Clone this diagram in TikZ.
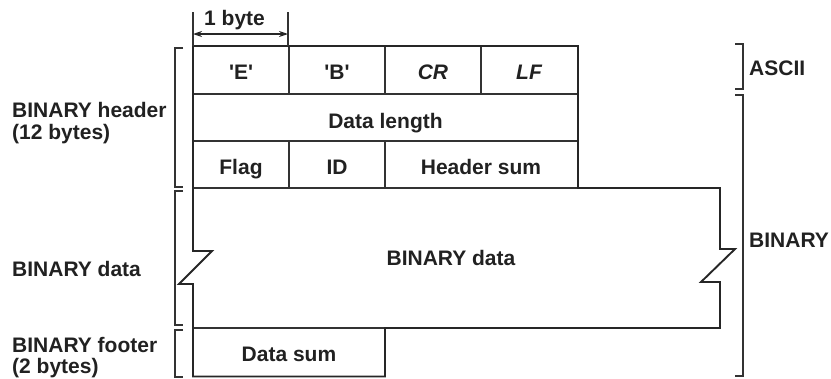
\documentclass[tikz,border=0pt]{standalone}
\usepackage{fontspec}
\setmainfont{Liberation Sans}[Ligatures=TeXOff]
\usetikzlibrary{arrows.meta}
\begin{document}
\begin{tikzpicture}[x=1pt,y=-1pt,
  txt/.style={font=\fontsize{21}{22}\selectfont\bfseries, text=black!87, inner sep=0pt, anchor=base},
  ltxt/.style={txt, anchor=base west},
  outer/.style={draw=black!85, line width=1.9pt, line join=miter},
  inner/.style={draw=black!80, line width=1.2pt},
  brk/.style={draw=black!80, line width=1.2pt},
  dim/.style={draw=black!85, line width=1.2pt, {Stealth[length=9pt,width=6pt]}-{Stealth[length=9pt,width=6pt]}}]
\useasboundingbox (0,0) rectangle (831,378);
% internal dividers
\draw[inner] (193,94) -- (578,94);
\draw[inner] (193,141) -- (578,141);
\draw[inner] (193,188) -- (578,188);
\draw[inner] (193,328) -- (385,328);
\draw[inner] (289,46) -- (289,94);
\draw[inner] (385,46) -- (385,94);
\draw[inner] (481,46) -- (481,94);
\draw[inner] (289,141) -- (289,188);
\draw[inner] (385,141) -- (385,188);
% outline
\draw[outer] (193,46) -- (578,46) -- (578,188) -- (720,188) -- (720,249) -- (735,249) -- (701,282) -- (720,282) -- (720,328) -- (385,328) -- (385,376.5) -- (193,376.5) -- (193,284) -- (179,284) -- (212,251) -- (193,251) -- cycle;
% cell texts
\node[txt] (e) at (241,79) {'E'};
\node[txt] (b) at (337,79) {'B'};
\node[txt] (cr) at (433,79) {\itshape CR};
\node[txt] (lf) at (529,79) {\itshape LF};
\node[txt] (dl) at (385.5,128) {Data length};
\node[txt] (flag) at (241,174) {Flag};
\node[txt] (id) at (337,174) {ID};
\node[txt] (hs) at (481,174) {Header sum};
\node[txt] (bd) at (451,265) {BINARY data};
\node[txt] (ds) at (289,361) {Data sum};
% 1 byte dimension
\coordinate (d1) at (193,34);
\coordinate (d2) at (288,34);
\draw[inner] (193,12) -- (193,46);
\draw[inner] (288,12) -- (288,46);
\draw[dim] (d1) -- (d2);
\node[ltxt] (byte) at (204,25) {1 byte};
% left brackets
\draw[brk] (183,48) -- (175,48) -- (175,187) -- (183,187);
\draw[brk] (183,191) -- (175,191) -- (175,325) -- (183,325);
\draw[brk] (183,330) -- (175,330) -- (175,377) -- (183,377);
% right brackets
\draw[brk] (735,44) -- (743,44) -- (743,89) -- (735,89);
\draw[brk] (735,95) -- (743,95) -- (743,376) -- (735,376);
% labels
\node[ltxt] (lh1) at (12,117) {BINARY header};
\node[ltxt] (lh2) at (12,139) {(12 bytes)};
\node[ltxt] (ld) at (12,276) {BINARY data};
\node[ltxt] (lf1) at (12,352) {BINARY footer};
\node[ltxt] (lf2) at (12,373) {(2 bytes)};
\node[ltxt] (lascii) at (749,75) {ASCII};
\node[ltxt] (lbin) at (749,247) {BINARY};
\end{tikzpicture}
\end{document}
